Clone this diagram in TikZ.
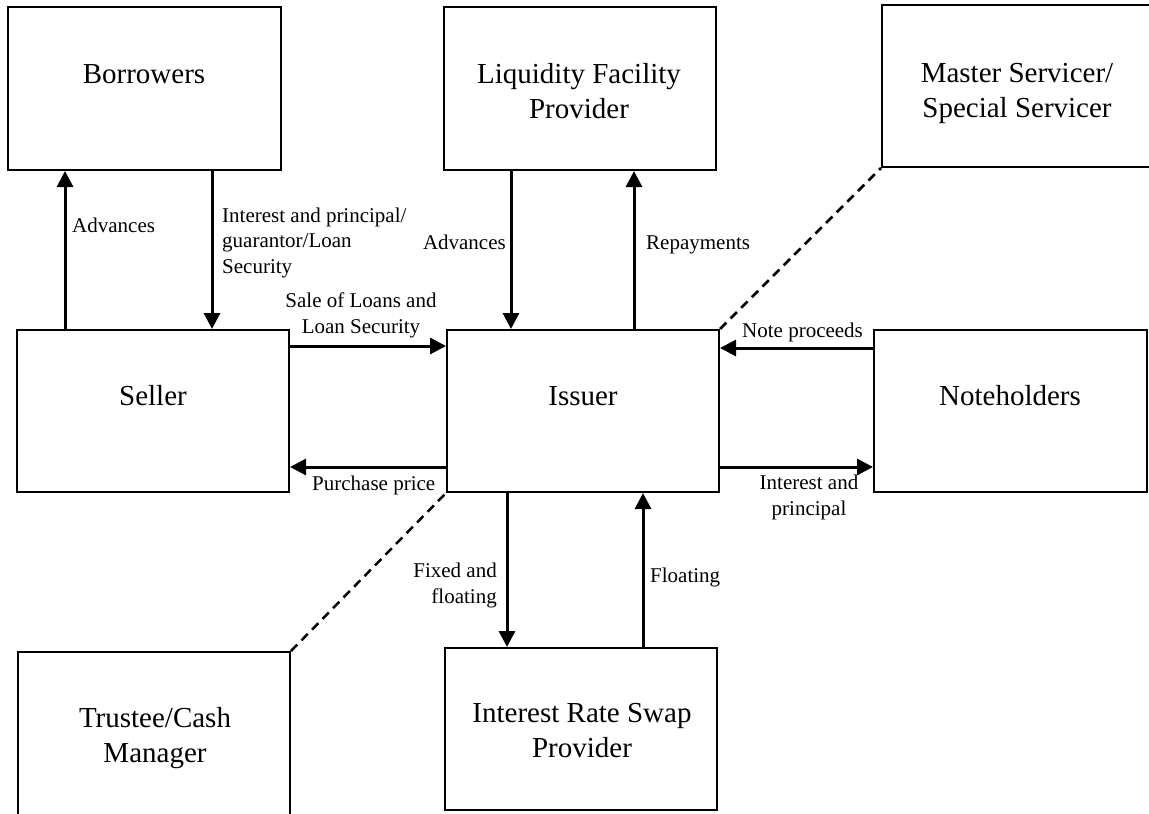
\documentclass[tikz,border=0pt]{standalone}
\usepackage{fontspec}
\setmainfont{Liberation Serif}
\usetikzlibrary{arrows.meta}
\begin{document}
\begin{tikzpicture}[x=1pt,y=-1pt,
  box/.style={draw,line width=2pt,rectangle,inner sep=0pt},
  boxtext/.style={font=\fontsize{29}{35}\selectfont,align=center,inner sep=0pt,anchor=base},
  lbl/.style={font=\fontsize{21}{25.5}\selectfont,inner sep=0pt},
  arr/.style={line width=3pt,-{Triangle[length=16pt,width=16pt]}},
  dsh/.style={line width=2.5pt,dash pattern=on 9pt off 6pt}]
\useasboundingbox (0,0) rectangle (1149,814);
\clip (0,0) rectangle (1149,814);
% boxes
\node[box,minimum width=273pt,minimum height=163pt] (bor) at (144.5,88.5) {};
\node[box,minimum width=272pt,minimum height=163pt] (liq) at (580,88.5) {};
\node[box,minimum width=270pt,minimum height=162pt] (mas) at (1017,86) {};
\node[box,minimum width=272pt,minimum height=162pt] (sel) at (153,411) {};
\node[box,minimum width=272pt,minimum height=162pt] (iss) at (583,411) {};
\node[box,minimum width=273pt,minimum height=162pt] (not) at (1010.5,411) {};
\node[box,minimum width=272pt,minimum height=180pt] (tru) at (154,742) {};
\node[box,minimum width=272pt,minimum height=162pt] (swp) at (581,729) {};
% box texts (anchor base = baseline of the last line)
\node[boxtext] (borT) at (144,83) {Borrowers};
\node[boxtext] (liqT) at (579,118) {Liquidity Facility\\Provider};
\node[boxtext] (masT) at (1017,117) {Master Servicer/\\Special Servicer};
\node[boxtext] (selT) at (153,405) {Seller};
\node[boxtext] (issT) at (583,405) {Issuer};
\node[boxtext] (notT) at (1010,405) {Noteholders};
\node[boxtext] (truT) at (155,762) {Trustee/Cash\\Manager};
\node[boxtext] (swpT) at (582,757) {Interest Rate Swap\\Provider};
% x positions of vertical connectors, y of horizontal ones
\coordinate (xa) at (65,0);
\coordinate (xb) at (212,0);
\coordinate (xc) at (511,0);
\coordinate (xd) at (634,0);
\coordinate (xe) at (507,0);
\coordinate (xf) at (643,0);
\coordinate (ya) at (0,346);
\coordinate (yb) at (0,467);
\coordinate (yc) at (0,348);
% connectors
\draw[arr] (sel.north -| xa) -- (bor.south -| xa);
\draw[arr] (bor.south -| xb) -- (sel.north -| xb);
\draw[arr] (sel.east |- ya) -- (iss.west |- ya);
\draw[arr] (iss.west |- yb) -- (sel.east |- yb);
\draw[arr] (liq.south -| xc) -- (iss.north -| xc);
\draw[arr] (iss.north -| xd) -- (liq.south -| xd);
\draw[arr] (not.west |- yc) -- (iss.east |- yc);
\draw[arr] (iss.east |- yb) -- (not.west |- yb);
\draw[arr] (iss.south -| xe) -- (swp.north -| xe);
\draw[arr] (swp.north -| xf) -- (iss.south -| xf);
\draw[dsh] (iss.north east) -- (mas.south west);
\draw[dsh] (tru.north east) -- (iss.south west);
% labels
\node[lbl,anchor=base west] (l1) at (72,232) {Advances};
\node[lbl,anchor=base west,align=left] (l2) at (222,273) {Interest and principal/\\guarantor/Loan\\Security};
\node[lbl,anchor=base,align=center] (l3) at (361,333) {Sale of Loans and\\Loan Security};
\node[lbl,anchor=base east] (l4) at (506,249) {Advances};
\node[lbl,anchor=base west] (l5) at (646,249) {Repayments};
\node[lbl,anchor=base west] (l6) at (742,337) {Note proceeds};
\node[lbl,anchor=base west] (l7) at (312,490) {Purchase price};
\node[lbl,anchor=base,align=center] (l8) at (809,515) {Interest and\\principal};
\node[lbl,anchor=base east,align=right] (l9) at (497,603) {Fixed and\\floating};
\node[lbl,anchor=base west] (l10) at (650,582) {Floating};
\end{tikzpicture}
\end{document}
